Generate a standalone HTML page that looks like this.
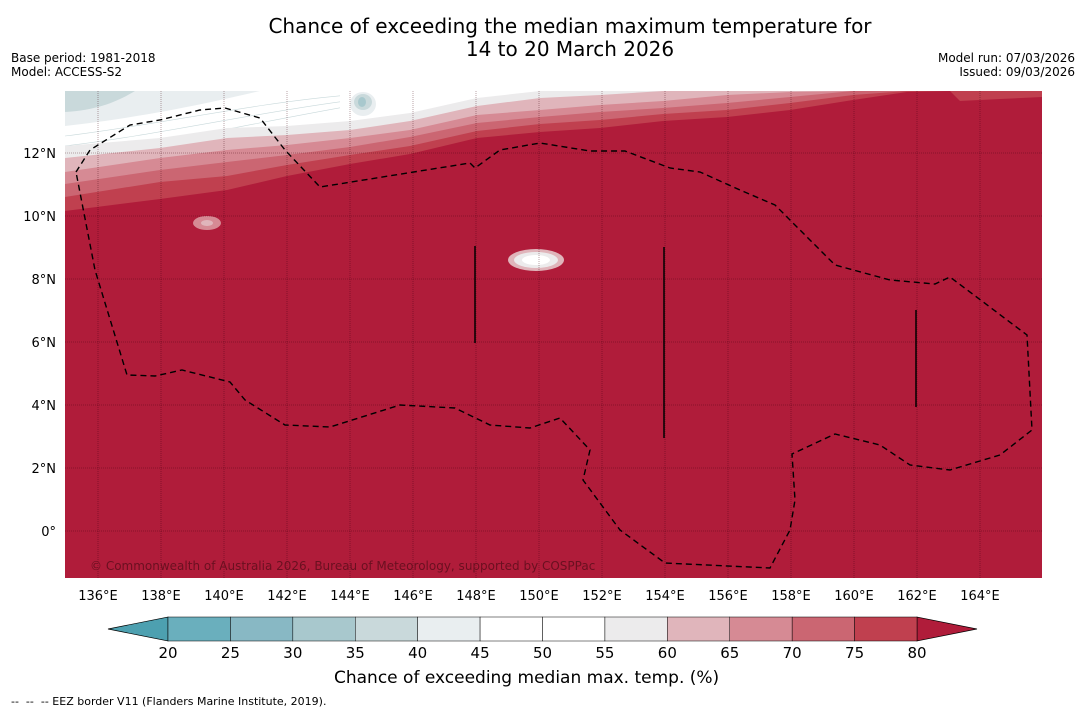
<!DOCTYPE html>
<html><head><meta charset="utf-8"><style>
body{margin:0;background:#fff;font-family:"DejaVu Sans","Liberation Sans",sans-serif;}
#wrap{position:relative;width:1085px;height:713px;overflow:hidden;background:#fff}
.t{position:absolute;white-space:nowrap}
</style></head><body>
<div id="wrap">
<div class="t" style="left:0;width:1140px;top:15px;text-align:center;font-size:20px;line-height:23px;color:#000">Chance of exceeding the median maximum temperature for<br>14 to 20 March 2026</div>
<div class="t" style="left:11px;top:51px;font-size:12px;line-height:14px">Base period: 1981-2018<br>Model: ACCESS-S2</div>
<div class="t" style="right:10px;top:51px;font-size:12px;line-height:14px;text-align:right">Model run: 07/03/2026<br>Issued: 09/03/2026</div>
<svg id="svg" width="1085" height="713" style="position:absolute;left:0;top:0"></svg>
<div class="t" style="left:334px;top:668px;font-size:17px">Chance of exceeding median max. temp. (%)</div>
<div class="t" style="left:11px;top:695px;font-size:11px">-- &nbsp;-- &nbsp;-- EEZ border V11 (Flanders Marine Institute, 2019).</div>
</div>
<script>
const lonTicks=[136,138,140,142,144,146,148,150,152,154,156,158,160,162,164];
const latTicks=[0,2,4,6,8,10,12];
const levels=[20,25,30,35,40,45,50,55,60,65,70,75,80];
const levelColors=["#6aafbd","#88b8c4","#a8c8cd","#c9d9db","#e9eef0","#ffffff","#ffffff","#ecebec","#e0b5bb","#d68a94","#cb6672","#c0404f"];
const lowColor="#4da0b0", highColor="#b01c3a";
const bandLevels=[55,60,65,70,75,80];
const bandX=[65,160,227,287,350,410,477,540,600,663,727,790,853,907,950,1042];
const bandY={
55:[146,138,128,126,121,113,98,91,91,91,91,91,91,91,91,91],
60:[158,148,138,135,130,121,106,98,95,91,91,91,91,91,91,91],
65:[172,158,150,145,138,130,115,110,105,101,95,92,91,91,91,91],
70:[184,170,162,155,147,137,123,117,112,108,103,97,91,91,91,91],
75:[197,182,176,165,155,146,131,124,120,114,110,103,95,91,91,91],
80:[211,199,190,176,164,154,138,132,128,121,117,110,100,92,91,91]};
const NS="http://www.w3.org/2000/svg";
const svg=document.getElementById('svg');
const X0=65,X1=1042,Y0=91,Y1=578;
const lonX=l=>98+(l-136)*31.5;
const latY=l=>531-l*31.5;
function mk(t,a,p){const e=document.createElementNS(NS,t);for(const k in a)e.setAttribute(k,a[k]);(p||svg).appendChild(e);return e;}
const g=mk('g',{});


const cp=mk('clipPath',{id:'cp'});mk('rect',{x:X0,y:Y0,width:X1-X0,height:Y1-Y0},cp);
g.setAttribute('clip-path','url(#cp)');
const bg=mk('rect',{x:X0,y:Y0,width:X1-X0,height:Y1-Y0,fill:'#ffffff'},g);


mk('path',{d:'M65,91 L260,91 C220,100 160,115 65,126 Z',fill:'#e9eef0'},g);
const tl=mk('path',{d:'M65,91 L135,91 C120,100 100,110 65,112 Z',fill:'#c9d9db'},g);


mk('ellipse',{cx:363,cy:104,rx:13,ry:12,fill:'#e9eef0'},g);
mk('ellipse',{cx:363,cy:102,rx:9,ry:8,fill:'#c9d9db'},g);
mk('ellipse',{cx:362,cy:102,rx:4,ry:5,fill:'#a8c8cd'},g);
[[0,8],[0,18],[0,28]].forEach(o=>{mk('path',{d:`M65,${128+o[1]} C150,${118+o[1]} 250,${96+o[1]} 340,${91+o[1]*0.6}`,fill:'none',stroke:'#c9d9db','stroke-width':0.6},g);});
bandLevels.forEach(lv=>{
 const ci=levels.indexOf(lv);
 let d='M'+bandX.map((x,i)=>x+','+bandY[lv][i]).join(' L')+' L1042,578 L65,578 Z';
 const p=mk('path',{d:d,fill:lv===80?highColor:levelColors[ci]},g);
 
 
});
mk('path',{d:'M950,91 L1042,91 L1042,97 L1000,99 L960,101 Z',fill:'#c0404f'},g);
mk('ellipse',{cx:207,cy:223,rx:14,ry:7,fill:'#d68a94'},g);
mk('ellipse',{cx:207,cy:223,rx:6,ry:3,fill:'#e0b5bb'},g);
const bl=mk('ellipse',{cx:536,cy:260,rx:28,ry:11,fill:'#e0b5bb'},g);


mk('ellipse',{cx:536,cy:260,rx:22,ry:8,fill:'#ecebec'},g);
mk('ellipse',{cx:536,cy:260,rx:14,ry:5,fill:'#ffffff'},g);
lonTicks.forEach(l=>{const x=lonX(l);const e=mk('line',{x1:x,y1:Y0,x2:x,y2:Y1,stroke:'rgba(60,0,10,0.45)','stroke-width':0.8,'stroke-dasharray':'1,1'},g);
});
latTicks.forEach(l=>{const y=latY(l);const e=mk('line',{x1:X0,y1:y,x2:X1,y2:y,stroke:'rgba(60,0,10,0.45)','stroke-width':0.8,'stroke-dasharray':'1,1'},g);
});
const eez=[[76,172],[90,150],[130,125],[160,120],[200,110],[225,108],[260,118],[285,150],[320,187],[470,163],[475,168],[500,150],[540,143],[590,151],[625,151],[670,168],[700,172],[740,190],[775,205],[835,265],[890,280],[935,284],[950,277],[1027,335],[1032,430],[1000,455],[950,470],[910,465],[880,445],[835,434],[792,454],[795,500],[790,530],[770,568],[665,563],[620,530],[583,480],[590,450],[560,418],[530,428],[490,425],[455,408],[400,405],[330,427],[285,425],[245,400],[230,382],[182,370],[155,376],[127,375],[95,270],[76,172]];
const ep=mk('polyline',{points:eez.map(p=>p.join(',')).join(' '),fill:'none',stroke:'#000','stroke-width':1.4,'stroke-dasharray':'6,4'},g);


[[475,246,343],[664,247,438],[916,310,407]].forEach(v=>{const e=mk('line',{x1:v[0],y1:v[1],x2:v[0],y2:v[2],stroke:'#000','stroke-width':1.5},g);
});
const ct=mk('text',{x:90,y:570,'font-size':12,fill:'#6a1020','font-family':'DejaVu Sans, Liberation Sans, sans-serif'},g);
ct.textContent='© Commonwealth of Australia 2026, Bureau of Meteorology, supported by COSPPac';

lonTicks.forEach(l=>{const t=mk('text',{x:lonX(l),y:600,'font-size':13,'text-anchor':'middle','font-family':'DejaVu Sans, sans-serif'});t.textContent=l+'°E';
});
latTicks.forEach(l=>{const t=mk('text',{x:56,y:latY(l)+5,'font-size':13,'text-anchor':'end','font-family':'DejaVu Sans, sans-serif'});t.textContent=l===0?'0°':l+'°N';
});
const cbx=v=>168+(v-20)*(917-168)/60, cy0=617, cy1=641;
const lt=mk('polygon',{points:`108,629 168,${cy0} 168,${cy1}`,fill:lowColor,stroke:'#000','stroke-width':0.7});

const rt=mk('polygon',{points:`977,629 917,${cy0} 917,${cy1}`,fill:highColor,stroke:'#000','stroke-width':0.7});

levelColors.forEach((c,i)=>{const r=mk('rect',{x:cbx(levels[i]),y:cy0,width:cbx(levels[i+1])-cbx(levels[i]),height:cy1-cy0,fill:c,stroke:'#000','stroke-width':0.5});
});
levels.forEach(v=>{const t=mk('text',{x:cbx(v),y:658,'font-size':15,'text-anchor':'middle','font-family':'DejaVu Sans, sans-serif'});t.textContent=v;
});
</script>
</body></html>
